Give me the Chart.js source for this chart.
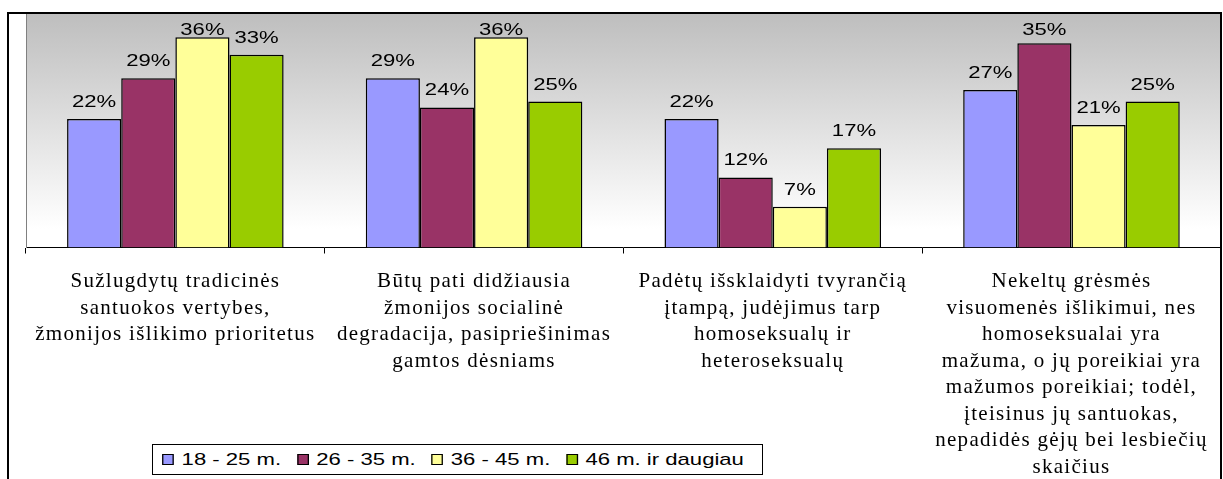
<!DOCTYPE html>
<html>
<head>
<meta charset="utf-8">
<script src="https://cdn.jsdelivr.net/npm/chart.js@4/dist/chart.umd.min.js"></script>
<style>
  body { margin: 0; background: #fff; }
  #wrap { position: relative; width: 1223px; height: 479px; overflow: hidden; }
  #legend {
    position: absolute; left: 152px; top: 444px; width: 609px; height: 29px;
    border: 1px solid #000; background: #fff; overflow: hidden;
  }
  #legend .inner {
    display: flex; align-items: center; height: 29px; padding-left: 7px;
    transform: scaleX(1.3); transform-origin: 0 50%;
    font-family: "Liberation Sans", Arial, sans-serif; font-size: 17px; color: #000;
  }
  #legend .item { display: flex; align-items: center; margin-right: 12px; white-space: nowrap; }
  #legend .box { width: 7px; height: 9px; border: 1px solid #000; margin-right: 6px; }
</style>
</head>
<body>
<div id="wrap">
  <canvas id="chart" width="1223" height="479"></canvas>
  <div id="legend"><div class="inner"></div></div>
</div>
<script>
// kategorijos (x ašies etiketės, eilutėmis)
const categories = [
    ['Sužlugdytų tradicinės', 'santuokos vertybes,', 'žmonijos išlikimo prioritetus'],
    ['Būtų pati didžiausia', 'žmonijos socialinė', 'degradacija, pasipriešinimas', 'gamtos dėsniams'],
    ['Padėtų išsklaidyti tvyrančią', 'įtampą, judėjimus tarp', 'homoseksualų ir', 'heteroseksualų'],
    ['Nekeltų grėsmės', 'visuomenės išlikimui, nes', 'homoseksualai yra', 'mažuma, o jų poreikiai yra',
     'mažumos poreikiai; todėl,', 'įteisinus jų santuokas,', 'nepadidės gėjų bei lesbiečių', 'skaičius']
];

const seriesNames = ['18 - 25 m.', '26 - 35 m.', '36 - 45 m.', '46 m. ir daugiau'];
const age18to25 = [22, 29, 22, 27];
const age26to35 = [29, 24, 12, 35];
const age36to45 = [36, 36, 7, 21];
const age46plus = [33, 25, 17, 25];
const colors = ['#9999FF', '#993366', '#FFFF99', '#99CC00'];

const yMin = 0;
const yMax = 40;

const seriesValues = [age18to25, age26to35, age36to45, age46plus];

const datasets = seriesNames.map((name, i) => {
    return {
        label: name,
        data: seriesValues[i],
        backgroundColor: colors[i],
        borderColor: '#000',
        borderWidth: 1.5,
        barPercentage: 1,
        categoryPercentage: 0.725
    };
});

const tickSpacing = '1.3px';

// fonas su gradientu + rėmelis
const backgroundPlugin = {
    id: 'plotBackground',
    beforeLayout(chart) {
        chart.ctx.letterSpacing = tickSpacing;
    },
    beforeDraw(chart) {
        const ctx = chart.ctx;
        const a = chart.chartArea;
        ctx.save();
        const g = ctx.createLinearGradient(0, a.top, 0, a.bottom);
        g.addColorStop(0, '#bebebe');
        g.addColorStop(0.92, '#ffffff');
        g.addColorStop(1, '#ffffff');
        ctx.fillStyle = g;
        ctx.fillRect(a.left, a.top, a.right - a.left, a.bottom - a.top);
        ctx.restore();
        ctx.letterSpacing = tickSpacing;
    },
    afterDraw(chart) {
        const ctx = chart.ctx;
        ctx.save();
        ctx.strokeStyle = '#000';
        ctx.lineWidth = 2;
        ctx.beginPath();
        ctx.moveTo(8, chart.height);
        ctx.lineTo(8, 13);
        ctx.lineTo(1221, 13);
        ctx.lineTo(1221, chart.height);
        ctx.stroke();
        ctx.restore();
    }
};

// reikšmių etiketės virš stulpelių
const valueLabels = {
    id: 'valueLabels',
    afterDatasetsDraw(chart) {
        const ctx = chart.ctx;
        const top = chart.chartArea.top;
        ctx.save();
        ctx.letterSpacing = '0px';
        ctx.font = '17px "Liberation Sans", Arial, sans-serif';
        ctx.fillStyle = '#000';
        ctx.textAlign = 'center';
        ctx.textBaseline = 'alphabetic';
        chart.data.datasets.forEach((ds, i) => {
            chart.getDatasetMeta(i).data.forEach((bar, j) => {
                const y = Math.max(bar.y - 12, top + 21);
                ctx.save();
                ctx.translate(bar.x, y);
                ctx.scale(1.3, 1);
                ctx.fillText(ds.data[j] + '%', 0, 0);
                ctx.restore();
            });
        });
        ctx.restore();
    }
};

const chart = new Chart(document.getElementById('chart').getContext('2d'), {
    type: 'bar',
    data: {
        labels: categories,
        datasets: datasets
    },
    options: {
        responsive: false,
        animation: false,
        layout: {
            padding: { left: 26, right: 2, top: 14, bottom: -2 }
        },
        plugins: {
            legend: { display: false },
            tooltip: { enabled: false }
        },
        scales: {
            x: {
                grid: {
                    display: true,
                    drawOnChartArea: false,
                    drawTicks: true,
                    tickLength: 6,
                    color: '#000'
                },
                border: { display: true, color: '#000', width: 1 },
                ticks: {
                    autoSkip: false,
                    maxRotation: 0,
                    minRotation: 0,
                    padding: 15,
                    color: '#000',
                    font: { family: "'Liberation Serif', serif", size: 21, lineHeight: '26.5px' }
                }
            },
            y: {
                min: yMin,
                max: yMax,
                grid: { display: false, drawTicks: false },
                border: { display: true, color: '#808080', width: 1 },
                ticks: { display: false }
            }
        }
    },
    plugins: [backgroundPlugin, valueLabels]
});

// legenda
const legendInner = document.querySelector('#legend .inner');
seriesNames.forEach((name, i) => {
    const item = document.createElement('div');
    item.className = 'item';
    const box = document.createElement('div');
    box.className = 'box';
    box.style.background = colors[i];
    const txt = document.createElement('span');
    txt.textContent = name;
    item.appendChild(box);
    item.appendChild(txt);
    legendInner.appendChild(item);
});
</script>
</body>
</html>
